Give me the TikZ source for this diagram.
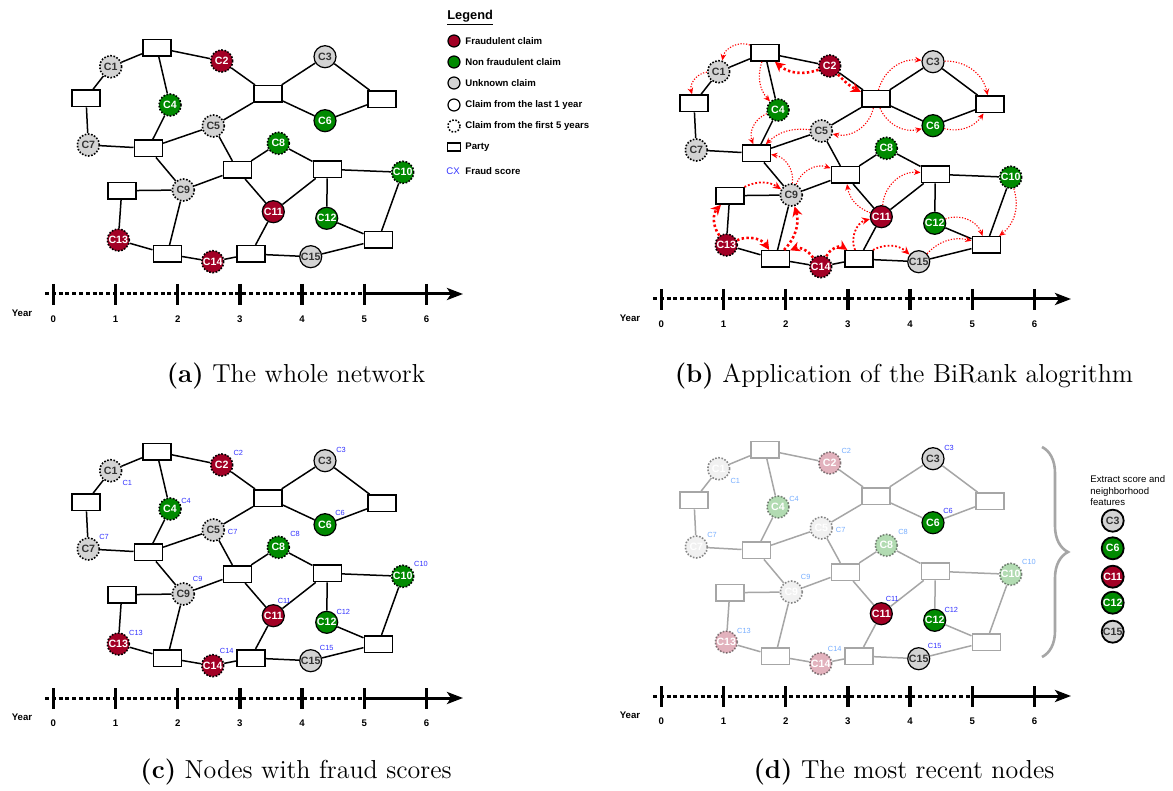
\documentclass[tikz,border=0pt]{standalone}
\usepackage{fontspec}
\setsansfont{Liberation Sans}
\usetikzlibrary{arrows.meta,decorations.pathreplacing}

\definecolor{fraudred}{RGB}{162,0,37}
\definecolor{honestgreen}{RGB}{0,138,0}
\definecolor{unknowngray}{RGB}{211,211,211}
\definecolor{scoreblue}{RGB}{51,51,255}
\definecolor{fadedblue}{RGB}{120,175,255}
\definecolor{flowred}{RGB}{255,0,0}

\newcommand{\netfont}{\sffamily\bfseries\fontsize{4.8}{5}\selectfont}
\newcommand{\claimfont}{\sffamily\bfseries\fontsize{5.3}{5.5}\selectfont}
\newcommand{\scorefont}{\sffamily\fontsize{3.7}{4}\selectfont}

\tikzset{
  apply/.code={\edef\netopts{#1}\expandafter\pgfkeysalso\expandafter{\netopts}},
  claim/.style={circle, draw=black, line width=0.6pt, minimum size=11pt, inner sep=0pt, font=\claimfont},
  fraudclaim/.style={claim, fill=fraudred, text=white},
  honestclaim/.style={claim, fill=honestgreen, text=white},
  unknownclaim/.style={claim, fill=unknowngray, text=black!80},
  oldclaim/.style={dash pattern=on 0.8pt off 0.8pt, line width=0.8pt, faded},
  recentclaim/.style={},
  faded/.style={},
  party/.style={draw=black, fill=white, line width=0.8pt, minimum width=14pt, minimum height=8.3pt, inner sep=0pt},
  link/.style={draw=black, line width=0.75pt},
  score/.style={font=\scorefont, text=scoreblue, inner sep=0pt},
  oldclaim score/.style={score},
  recentclaim score/.style={score},
  flow/.style={draw=flowred, dash pattern=on 0.6pt off 0.8pt, line width=0.55pt, -{Stealth[length=3.2pt,width=2.8pt]}},
  midflow/.style={draw=flowred, dash pattern=on 0.9pt off 1pt, line width=0.9pt, -{Stealth[length=4pt,width=3.6pt]}},
  bigflow/.style={draw=flowred, dash pattern=on 1.2pt off 1.2pt, line width=1.3pt, -{Stealth[length=5pt,width=5pt]}},
  yearline/.style={line width=1.5pt},
  yeartick/.style={line width=1.7pt},
  yearlabel/.style={font=\netfont, inner sep=0pt},
  legendtext/.style={font=\netfont, anchor=west, inner sep=0pt},
  caption/.style={font=\fontsize{13}{15}\selectfont, inner sep=0pt}
}

% one copy of the claim network, node names prefixed by #1
\newcommand{\claimnet}[1]{%
  \foreach \name/\x/\y in {P1/156.7/47.7, P2/86/98.3, P3/267.7/94, P4/381.7/99.3,
      P5/148.3/148.3, P6/237.3/170, P7/327.3/169.3, P8/121.7/190.7,
      P9/378.3/240, P10/167.3/254, P11/250.7/254}
    \node[party] (#1-\name) at (\x,\y) {};
  \foreach \name/\x/\y/\kind/\age in {C1/110.7/66.7/unknownclaim/oldclaim,
      C2/221.7/61/fraudclaim/oldclaim, C3/325/56.7/unknownclaim/recentclaim,
      C4/170/105/honestclaim/oldclaim, C5/213.3/126/unknownclaim/oldclaim,
      C6/325/120.7/honestclaim/recentclaim, C7/88.3/145/unknownclaim/oldclaim,
      C8/278.3/143.3/honestclaim/oldclaim, C9/183.3/190/unknownclaim/oldclaim,
      C10/402.7/172.3/honestclaim/oldclaim, C11/273.3/211.7/fraudclaim/recentclaim,
      C12/326.7/218.3/honestclaim/recentclaim, C13/118.3/240/fraudclaim/oldclaim,
      C14/212.7/261.7/fraudclaim/oldclaim, C15/310.7/256.7/unknownclaim/recentclaim}
    \node[apply={\kind,\age}] (#1-\name) at (\x,\y) {\name};
  \foreach \u/\v in {P1/C1, P1/C2, P1/C4, C1/P2, P2/C7, C2/P3, P3/C3, P3/C6,
      P3/C5, C3/P4, C6/P4, C4/P5, C7/P5, P5/C5, P5/C9, C5/P6, P6/C8, P6/C9,
      P6/C11, C8/P7, P7/C10, P7/C12, P7/C11, P8/C9, P8/C13, C9/P10, C13/P10,
      P10/C14, C14/P11, P11/C11, P11/C15, C15/P9, C12/P9, P9/C10}
    \draw[link] (#1-\u) -- (#1-\v);
}

% fraud scores beside the claims
\newcommand{\scorenet}[1]{%
  \foreach \name/\dx/\dy/\txt/\age in {C1/16.6/12/C1/oldclaim, C2/16.6/-11.7/C2/oldclaim,
      C3/16/-10.7/C3/recentclaim, C4/16/-8/C4/oldclaim, C5/19.4/1.7/C7/oldclaim,
      C6/15/-12/C6/recentclaim, C7/15.7/-11.7/C7/oldclaim, C8/16.7/-13.3/C8/oldclaim,
      C9/14.4/-15/C9/oldclaim, C10/18.3/-12/C10/oldclaim, C11/11/-14.7/C11/recentclaim,
      C12/16.6/-10/C12/recentclaim, C13/17.7/-11.3/C13/oldclaim,
      C14/14/-14.7/C14/oldclaim, C15/16/-12.4/C15/recentclaim}
    \node[apply={\age\space score}] at ([shift={(\dx,\dy)}]#1-\name) {\txt};
}

% time axis
\newcommand{\yearaxis}{%
  \draw[yearline, dash pattern=on 2pt off 1.4pt] (45,294) -- (363,294);
  \draw[yearline, -{Stealth[length=8pt,width=6pt,inset=2pt]}] (363,294) -- (463,294);
  \foreach \t in {0,...,6} {
    \draw[yeartick] (53.3+62.2*\t,284) -- (53.3+62.2*\t,305);
    \node[yearlabel] at (53.3+62.2*\t,319) {\t};
  }
  \node[yearlabel] at (22,313) {Year};
}

\begin{document}
\begin{tikzpicture}[x=0.5pt,y=-0.5pt]
\useasboundingbox[fill=white] (0,0) rectangle (1173,791);

% (a) whole network
\claimnet{a}
\yearaxis
\node[caption] (capa) at (296,376) {\textbf{(a)} The whole network};

% legend
\node[font=\sffamily\bfseries\fontsize{6.4}{7}\selectfont, anchor=west, inner sep=0pt] (legend) at (447,18) {\underline{Legend}};
\node[fraudclaim, minimum size=6pt] (lg1) at (454,41) {};
\node[honestclaim, minimum size=6pt] (lg2) at (454,62) {};
\node[unknownclaim, minimum size=6pt] (lg3) at (454,83) {};
\node[claim, fill=white, minimum size=6pt] (lg4) at (454,105) {};
\node[claim, oldclaim, fill=white, minimum size=6pt] (lg5) at (454,126) {};
\node[party, minimum width=6.5pt, minimum height=4pt, line width=0.6pt] (lg6) at (454,147) {};
\node[font=\sffamily\fontsize{4.8}{5}\selectfont, text=scoreblue, inner sep=0pt] (lg7) at (453,170.7) {CX};
\node[legendtext] at (465,41) {Fraudulent claim};
\node[legendtext] at (465,62) {Non fraudulent claim};
\node[legendtext] at (465,83) {Unknown claim};
\node[legendtext] at (465,105) {Claim from the last 1 year};
\node[legendtext] at (465,126) {Claim from the first 5 years};
\node[legendtext] at (465,147) {Party};
\node[legendtext] at (465,170.7) {Fraud score};

% (b) BiRank propagation
\begin{scope}[shift={(608,5)}]
\claimnet{b}
\foreach \u/\v/\how in {P1/C1/bend right=50, C1/P2/bend right=50, P1/C4/bend right=30,
    P3/C5/bend left=45, C4/P5/bend right=45, C5/P5/bend right=25, P3/C3/bend left=40,
    P3/C6/bend right=40, C3/P4/bend left=40, C6/P4/bend right=35, C9/P5/bend right=45,
    C9/P6/bend left=45, C11/P6/bend left=30, C11/P7/bend left=45, C15/P9/bend left=30,
    C12/P9/bend left=45, C10/P9/bend left=35}
  \draw[flow, apply=\how] (b-\u) to (b-\v);
\foreach \u/\v/\how in {P8/C9/bend left=30, P11/C11/bend left=50, P11/C15/bend left=35}
  \draw[midflow, apply=\how] (b-\u) to (b-\v);
\foreach \u/\v/\how in {C2/P1/bend left=30, C2/P3/bend right=10, C13/P8/bend left=40,
    C13/P10/bend left=40, P10/C9/bend right=30, C14/P10/bend right=40, C14/P11/bend left=50}
  \draw[bigflow, apply=\how] (b-\u) to (b-\v);
\yearaxis
\end{scope}
\node[caption] (capb) at (904,376) {\textbf{(b)} Application of the BiRank alogrithm};

% (c) fraud scores
\begin{scope}[shift={(0,404)}]
\claimnet{c}
\scorenet{c}
\yearaxis
\end{scope}
\node[caption] (capc) at (296,772) {\textbf{(c)} Nodes with fraud scores};

% (d) most recent claims
\begin{scope}[shift={(608,402)},
    link/.style={draw=black!35, line width=0.75pt},
    party/.append style={draw=black!35},
    faded/.style={fill opacity=0.3, draw opacity=0.45, text=white, text opacity=1},
    oldclaim score/.style={score, text=fadedblue}]
\claimnet{d}
\scorenet{d}
\yearaxis
\end{scope}
\draw[black!35, line width=1.3pt, decorate, decoration={brace, amplitude=13pt, aspect=0.5}]
  (1042,447) -- (1042,657);
\node[font=\sffamily\fontsize{4.8}{5.6}\selectfont, align=left, anchor=west, inner sep=0pt] (extract) at (1090,490.7)
  {Extract score and\\neighborhood\\features};
\foreach \name/\y/\kind in {C3/520.7/unknownclaim, C6/548.3/honestclaim, C11/576.7/fraudclaim,
    C12/602.7/honestclaim, C15/631.7/unknownclaim}
  \node[apply=\kind, line width=0.9pt] (x-\name) at (1112.7,\y) {\name};
\node[caption] (capd) at (904,772) {\textbf{(d)} The most recent nodes};
\end{tikzpicture}
\end{document}
